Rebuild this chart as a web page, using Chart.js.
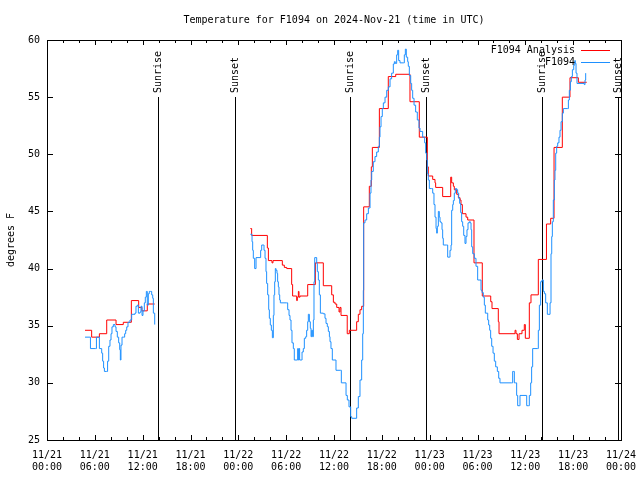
<!DOCTYPE html>
<html>
<head>
<meta charset="utf-8">
<script src="https://cdn.jsdelivr.net/npm/chart.js@4.4.1/dist/chart.umd.min.js"></script>
<style>
  html, body { margin: 0; padding: 0; background: #fff; }
  canvas { display: block; }
</style>
</head>
<body>
<canvas id="chart" width="640" height="480"></canvas>
<script>
// hours since 2024-11-21 00:00 UTC
const redHours = [4.77, 5.6, 6.57, 7.49, 8.66, 9.57, 10.58, 11.5, 11.9, 12.58, 13.51, 14,
    25.51, 25.67, 27.64, 27.77, 28.22, 28.35, 29.52, 29.77, 30.07, 30.69, 30.81, 31.32, 31.4, 31.53, 31.61, 31.74,
    32.7, 33.66, 34.66, 35.71, 35.92, 36.13, 36.34, 36.63, 36.75, 36.88, 37.66, 37.92, 38.84, 39.05, 39.26, 39.47,
    39.72, 40.43, 40.68, 40.81, 41.69, 42.81, 43.74, 45.53, 46.7, 47.71, 47.83, 48.38, 48.67, 48.75, 49.63,
    50.64, 50.76, 50.97, 51.09, 51.39, 51.6, 51.81, 51.93, 52.1, 52.56, 52.77, 53.56, 54.6, 55.66, 55.82,
    56.61, 56.7, 58.71, 58.83, 59.0, 59.21, 59.58, 59.87, 60.0, 60.5, 60.71, 61.63, 62.65, 63.18, 63.6,
    64.64, 65.6, 66.65, 67.7];
const redTemps = [34.6, 34.0, 34.3, 35.5, 35.1, 35.3, 37.2, 36.6, 36.3, 36.9, 36.9, null,
    43.5, 42.9, 41.8, 40.7, 40.5, 40.7, 40.3, 40.1, 40.0, 38.6, 37.6, 37.2, 37.5, 38.0, 37.5, 37.6,
    38.6, 40.5, 38.5, 37.7, 37.05, 36.9, 36.6, 36.2, 36.6, 35.9, 34.3, 34.6, 35.35, 36.0, 36.4, 36.7,
    45.4, 47.2, 48.9, 50.6, 54.0, 56.8, 57.0, 54.6, 51.5, 48.9, 48.1, 47.8, 47.5, 47.1, 46.3,
    48.0, 47.5, 47.2, 46.9, 46.5, 46.2, 46.0, 45.6, 44.8, 44.5, 44.25, 40.5, 37.6, 37.1, 36.5,
    35.35, 34.3, 34.6, 34.3, 33.8, 34.3, 34.6, 35.1, 33.9, 37.0, 37.7, 40.8, 43.9, 44.4, 50.6,
    55.0, 56.7, 56.3, 56.3];

const blueHours = [4.77, 5.39, 5.45, 6.1, 6.2, 6.45, 6.57, 6.86, 6.98, 7.1, 7.2, 7.49, 7.6, 7.74, 7.9, 8.03,
    8.15, 8.32, 8.53, 8.66, 8.82, 8.99, 9.12, 9.2, 9.28, 9.41, 9.57, 9.74, 9.87, 10.0, 10.16, 10.41, 10.62,
    11.04, 11.16, 11.33, 11.46, 11.67, 11.79, 11.92, 12.04, 12.21, 12.33, 12.46, 12.58, 12.71, 12.83, 13.0,
    13.13, 13.26, 13.34, 13.51, 14,
    25.51, 25.72, 25.8, 25.88, 26.05, 26.22, 26.72, 26.8, 26.93, 27.14, 27.22, 27.35, 27.47, 27.55, 27.68,
    27.81, 27.89, 28.01, 28.14, 28.27, 28.39, 28.47, 28.56, 28.64, 28.73, 28.85, 28.93, 29.02, 29.1, 29.19,
    29.27, 30.06, 30.19, 30.36, 30.48, 30.61, 30.73, 30.9, 31.02, 31.4, 31.44, 31.53, 31.61, 31.69, 31.9,
    31.99, 32.15, 32.28, 32.45, 32.57, 32.7, 32.78, 32.91, 33.03, 33.12, 33.2, 33.32, 33.41, 33.49, 33.58,
    33.74, 33.83, 33.91, 34.04, 34.16, 34.29, 34.66, 34.87, 35.0, 35.16, 35.29, 35.42, 35.5, 35.62, 35.79,
    36.13, 36.25, 36.84, 36.92, 37.38, 37.51, 37.67, 37.88, 38.09, 38.22, 38.76, 38.84, 39.05, 39.26, 39.47,
    39.6, 39.68, 39.72, 39.89, 40.1, 40.31, 40.52, 40.64, 40.73, 40.93, 41.14, 41.35, 41.56, 41.69, 41.77,
    41.9, 42.06, 42.19, 42.4, 42.61, 42.82, 43.03, 43.23, 43.44, 43.57, 43.69, 43.86, 43.99, 44.11, 44.28,
    44.7, 44.82, 44.95, 45.07, 45.24, 45.32, 45.45, 45.62, 45.74, 45.87, 46.04, 46.24, 46.45, 46.66, 46.79,
    47.12, 47.37, 47.5, 47.63, 47.71, 47.83, 47.96, 48.25, 48.38, 48.54, 48.67, 48.8, 48.88, 48.96, 49.09,
    49.21, 49.3, 49.42, 49.55, 49.63, 49.71, 50.13, 50.26, 50.47, 50.55, 50.68, 50.76, 50.89, 50.97, 51.09,
    51.22, 51.39, 51.51, 51.64, 51.76, 51.89, 52.01, 52.14, 52.27, 52.43, 52.56, 52.68, 52.81, 52.98, 53.1,
    53.19, 53.27, 53.4, 53.6, 53.81, 54.02, 54.31, 54.44, 54.57, 54.73, 54.86, 54.98, 55.28, 55.4, 55.53,
    55.65, 55.78, 55.95, 56.11, 56.28, 56.49, 56.66, 56.82, 58.29, 58.41, 58.54, 58.62, 58.79, 58.91, 59.04,
    59.25, 59.33, 60.09, 60.17, 60.38, 60.5, 60.67, 60.79, 60.92, 61.51, 61.63, 61.76, 61.92, 62.09, 62.26,
    62.39, 62.55, 62.76, 62.97, 63.1, 63.22, 63.31, 63.39, 63.51, 63.64, 63.72, 63.81, 63.93, 64.06, 64.22,
    64.35, 64.48, 64.64, 64.77, 65.27, 65.4, 65.52, 65.65, 65.77, 65.9, 66.07, 66.2, 66.27, 66.36, 66.48,
    67.4, 67.49, 67.57];
const blueTemps = [34.0, 34.0, 33.0, 33.0, 34.0, 34.0, 33.0, 32.6, 31.9, 31.3, 31.0, 31.0, 31.9, 33.2, 33.75, 34.3,
    34.9, 35.1, 34.9, 34.5, 34.0, 33.5, 32.9, 32.0, 33.3, 34.0, 34.0, 34.3, 34.6, 34.9, 35.3, 35.5, 36.0,
    36.1, 36.7, 36.8, 36.1, 36.2, 36.7, 35.9, 36.3, 37.0, 37.5, 38.0, 36.8, 37.8, 38.0, 38.0,
    37.7, 37.4, 36.1, 35.1, null,
    43.0, 42.35, 41.6, 40.9, 40.0, 40.96, 40.96, 41.6, 42.06, 42.06, 41.6, 40.9, 39.73, 38.7, 37.7,
    36.4, 35.65, 35.06, 34.6, 33.95, 35.9, 37.7, 38.85, 40.0, 39.85, 39.58, 38.85, 38.4, 37.7, 37.25,
    37.0, 37.0, 36.4, 35.9, 35.5, 34.6, 33.5, 33.0, 32.0, 32.0, 33.0, 32.0, 33.0, 32.0, 32.0,
    32.7, 33.0, 33.9, 34.04, 34.6, 35.35, 36.0, 35.35, 34.77, 34.04, 34.6, 34.04, 35.5, 38.85, 40.96,
    40.96, 40.46, 39.73, 39.0, 37.7, 36.1, 36.04, 35.65, 35.2, 34.92, 34.5, 34.04, 33.6, 33.0, 32.0,
    32.0, 31.1, 31.1, 30.0, 30.0, 28.9, 28.5, 27.9, 27.04, 26.9, 26.9, 27.8, 28.8, 30.25, 32.0,
    34.3, 38.1, 44.0, 44.25, 44.8, 45.3, 46.6, 47.75, 48.5, 49.35, 49.8, 50.2, 50.7, 51.5, 52.4,
    53.3, 54.0, 54.5, 55.0, 55.6, 55.9, 56.6, 57.1, 57.9, 58.1, 57.95, 58.7, 59.1, 58.2, 58.0,
    58.0, 58.7, 59.2, 58.5, 58.1, 57.7, 56.9, 56.2, 55.6, 54.9, 54.3, 53.7, 53.0, 52.3, 52.0,
    51.5, 51.0, 50.1, 49.5, 48.3, 47.75, 47.0, 47.0, 46.6, 45.6, 44.5, 43.5, 43.1, 43.7, 45.0,
    44.5, 44.1, 44.0, 43.4, 42.65, 42.06, 42.06, 41.0, 41.0, 41.6, 42.06, 45.1, 45.6, 45.95, 46.6,
    47.0, 46.9, 46.6, 46.15, 45.7, 44.9, 44.1, 43.7, 42.9, 42.2, 42.8, 43.4, 44.0, 44.1, 44.0,
    43.4, 41.9, 41.3, 40.9, 40.2, 39.0, 39.0, 38.1, 37.9, 37.5, 36.8, 36.1, 35.5, 35.06, 34.6,
    33.9, 33.2, 32.6, 31.9, 31.4, 31.0, 30.4, 30.0, 30.0, 31.0, 31.0, 30.0, 30.0, 28.9, 28.0,
    28.0, 28.9, 28.9, 28.0, 28.0, 28.9, 30.0, 31.4, 33.0, 33.0, 34.6, 36.8, 38.85, 39.0, 38.0,
    37.8, 37.0, 36.0, 36.0, 37.0, 41.3, 42.8, 44.1, 46.0, 47.75, 48.6, 50.1, 50.7, 51.0, 51.5,
    52.1, 52.85, 53.6, 54.0, 54.0, 54.75, 55.6, 56.35, 56.8, 57.4, 57.8, 58.2, 57.95, 57.1, 56.2,
    56.1, 56.5, 57.1];

const sunHours = [13.96, 23.52, 38.05, 47.58, 62.13, 71.65];
const sunLabels = ['Sunrise', 'Sunset', 'Sunrise', 'Sunset', 'Sunrise', 'Sunset'];

const xTickHours = [0, 6, 12, 18, 24, 30, 36, 42, 48, 54, 60, 66, 72];
const xTickDates = ['11/21', '11/21', '11/21', '11/21', '11/22', '11/22', '11/22', '11/22',
    '11/23', '11/23', '11/23', '11/23', '11/24'];
const xTickTimes = ['00:00', '06:00', '12:00', '18:00', '00:00', '06:00', '12:00', '18:00',
    '00:00', '06:00', '12:00', '18:00', '00:00'];

const seriesNames = ['F1094 Analysis', 'F1094'];
const seriesColors = ['#ff0000', '#1e90ff'];

const FONT_FAMILY = '"DejaVu Sans Mono", monospace';
const FONT = '10px ' + FONT_FAMILY;

function toPoints(hours, temps) {
    return hours.map(function (h, i) { return { x: h, y: temps[i] }; });
}

const gnuplotLook = {
    id: 'gnuplotLook',
    beforeDatasetsDraw(chart) {
        const ctx = chart.ctx, xs = chart.scales.x, a = chart.chartArea;
        ctx.save();
        ctx.strokeStyle = '#000';
        ctx.fillStyle = '#000';
        ctx.lineWidth = 1;
        ctx.font = FONT;
        sunHours.forEach(function (h, i) {
            const px = Math.round(xs.getPixelForValue(h)) + 0.5;
            ctx.beginPath();
            ctx.moveTo(px, 97);
            ctx.lineTo(px, a.bottom);
            ctx.stroke();
            ctx.save();
            ctx.translate(px, 93);
            ctx.rotate(-Math.PI / 2);
            ctx.textAlign = 'left';
            ctx.textBaseline = 'middle';
            ctx.fillText(sunLabels[i], 0, 0);
            ctx.restore();
        });
        ctx.restore();
    },
    afterDraw(chart) {
        const ctx = chart.ctx, xs = chart.scales.x, ys = chart.scales.y, a = chart.chartArea;
        ctx.save();
        ctx.strokeStyle = '#000';
        ctx.fillStyle = '#000';
        ctx.lineWidth = 1;

        // frame
        ctx.strokeRect(a.left + 0.5, a.top + 0.5, a.right - a.left, a.bottom - a.top);

        // tics on all four sides
        ctx.beginPath();
        xs.ticks.forEach(function (t) {
            const px = Math.round(xs.getPixelForValue(t.value)) + 0.5;
            const len = t.value % 6 === 0 ? 5 : 3;
            ctx.moveTo(px, a.bottom);
            ctx.lineTo(px, a.bottom - len);
            ctx.moveTo(px, a.top);
            ctx.lineTo(px, a.top + len);
        });
        ys.ticks.forEach(function (t) {
            const py = Math.round(ys.getPixelForValue(t.value)) + 0.5;
            ctx.moveTo(a.left, py);
            ctx.lineTo(a.left + 6, py);
            ctx.moveTo(a.right, py);
            ctx.lineTo(a.right - 6, py);
        });
        ctx.stroke();

        // title
        ctx.font = FONT;
        ctx.textAlign = 'center';
        ctx.textBaseline = 'middle';
        ctx.fillText('Temperature for F1094 on 2024-Nov-21 (time in UTC)', (a.left + a.right) / 2, 20);

        // key
        ctx.textAlign = 'right';
        seriesNames.forEach(function (name, i) {
            const y = 50 + i * 12;
            ctx.fillStyle = '#000';
            ctx.fillText(name, 575, y);
            ctx.strokeStyle = seriesColors[i];
            ctx.beginPath();
            ctx.moveTo(581, y + 0.5);
            ctx.lineTo(610, y + 0.5);
            ctx.stroke();
        });
        ctx.restore();
    }
};

new Chart(document.getElementById('chart').getContext('2d'), {
    type: 'line',
    data: {
        datasets: [
            {
                label: seriesNames[0],
                data: toPoints(redHours, redTemps),
                borderColor: seriesColors[0],
                borderWidth: 1,
                pointRadius: 0,
                stepped: 'before',
                spanGaps: false,
                fill: false,
                order: 1,
            },
            {
                label: seriesNames[1],
                data: toPoints(blueHours, blueTemps),
                borderColor: seriesColors[1],
                borderWidth: 1,
                pointRadius: 0,
                stepped: 'before',
                spanGaps: false,
                fill: false,
                order: 0,
            },
        ],
    },
    options: {
        responsive: false,
        animation: false,
        layout: { padding: { top: 40, right: 19, bottom: 0, left: 0 } },
        plugins: {
            legend: { display: false },
            title: { display: false },
            tooltip: { enabled: false },
        },
        scales: {
            x: {
                type: 'linear',
                min: 0,
                max: 72,
                grid: { display: false, drawTicks: false },
                border: { display: false },
                afterFit: function (s) {
                    s.height = 40;
                    s.paddingLeft = 0;
                    s.paddingRight = 0;
                },
                ticks: {
                    stepSize: 2,
                    autoSkip: false,
                    maxRotation: 0,
                    minRotation: 0,
                    padding: 9,
                    color: '#000',
                    font: { family: FONT_FAMILY, size: 10, lineHeight: 1.2 },
                    callback: function (v) {
                        const i = xTickHours.indexOf(v);
                        return i < 0 ? '' : [xTickDates[i], xTickTimes[i]];
                    },
                },
            },
            y: {
                min: 25,
                max: 60,
                grid: { display: false, drawTicks: false },
                border: { display: false },
                afterFit: function (s) {
                    s.width = 47;
                    s.paddingTop = 0;
                    s.paddingBottom = 0;
                },
                ticks: {
                    stepSize: 5,
                    padding: 7,
                    color: '#000',
                    font: { family: FONT_FAMILY, size: 10 },
                },
                title: {
                    display: true,
                    text: 'degrees F',
                    color: '#000',
                    font: { family: FONT_FAMILY, size: 10 },
                    padding: { top: 5, bottom: 0 },
                },
            },
        },
    },
    plugins: [gnuplotLook],
});
</script>
</body>
</html>
